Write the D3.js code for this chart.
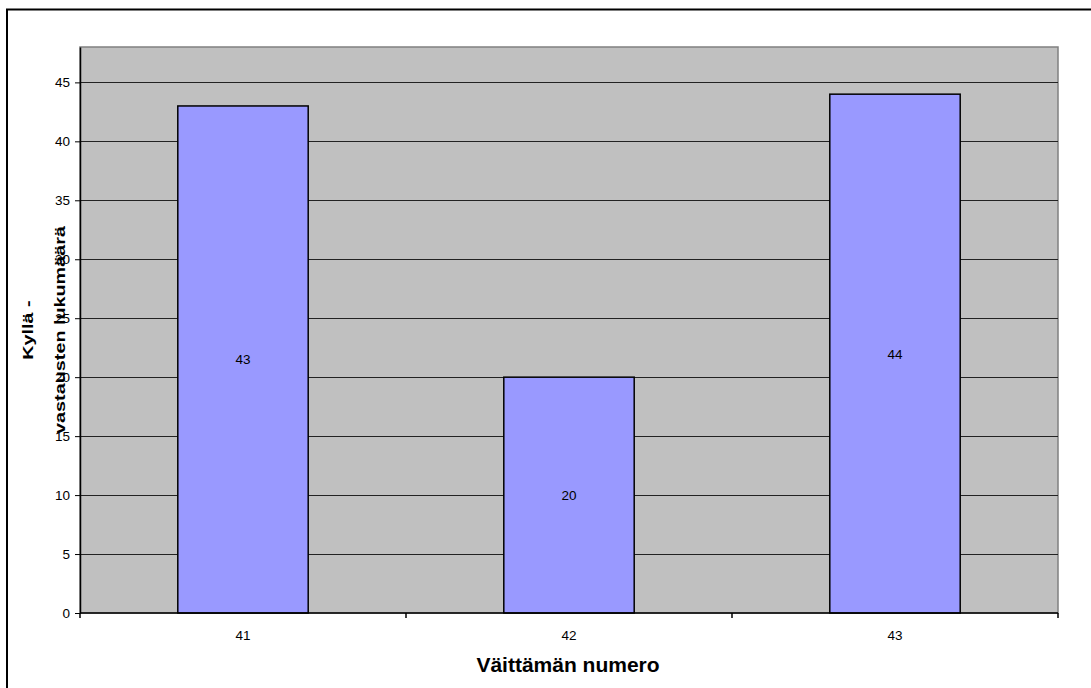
<!DOCTYPE html>
<html>
<head>
<meta charset="utf-8">
<script src="https://cdn.jsdelivr.net/npm/d3@7"></script>
<style>
  html, body { margin: 0; padding: 0; background: #fff; }
  svg { display: block; font-family: Arial, "Liberation Sans", sans-serif; }
</style>
</head>
<body>
<svg id="chart" width="1091" height="688"></svg>
<script>
// Statement numbers and count of "yes" answers
const categories = ["41", "42", "43"];
const yesCounts = [43, 20, 44];
const yTicks = [0, 5, 10, 15, 20, 25, 30, 35, 40, 45];
const yTitleLines = ["Kyllä -", "vastausten lukumäärä"];
const xTitle = "Väittämän numero";

const svg = d3.select("#chart");
const plot = { left: 80, top: 47, right: 1058, bottom: 613 };
const labelFont = 13.5;

// Outer chart frame (runs past the right and bottom edges)
svg.append("rect")
  .attr("x", 7).attr("y", 9.5)
  .attr("width", 1200).attr("height", 800)
  .attr("fill", "none").attr("stroke", "#000").attr("stroke-width", 2);

const x = d3.scaleBand()
  .domain(categories)
  .range([plot.left, plot.right])
  .paddingInner(0.6).paddingOuter(0.3);

const y = d3.scaleLinear().domain([0, 48]).range([plot.bottom, plot.top]);

// Plot background
svg.append("rect")
  .attr("x", plot.left).attr("y", plot.top)
  .attr("width", plot.right - plot.left).attr("height", plot.bottom - plot.top)
  .attr("fill", "#c0c0c0").attr("stroke", "#808080").attr("stroke-width", 1.5);

// Horizontal gridlines
svg.append("g").selectAll("line")
  .data(yTicks.filter(d => d > 0))
  .join("line")
  .attr("x1", plot.left).attr("x2", plot.right)
  .attr("y1", d => Math.round(y(d)) + 0.5).attr("y2", d => Math.round(y(d)) + 0.5)
  .attr("stroke", "#222").attr("stroke-width", 1);

// Bars
svg.append("g").selectAll("rect")
  .data(categories)
  .join("rect")
  .attr("x", d => x(d))
  .attr("y", (d, i) => y(yesCounts[i]))
  .attr("width", x.bandwidth())
  .attr("height", (d, i) => y(0) - y(yesCounts[i]))
  .attr("fill", "#9999ff").attr("stroke", "#000").attr("stroke-width", 1.5);

// Value labels in the middle of each bar
svg.append("g").selectAll("text")
  .data(categories)
  .join("text")
  .attr("x", d => x(d) + x.bandwidth() / 2)
  .attr("y", (d, i) => (y(yesCounts[i]) + y(0)) / 2 + 5)
  .attr("text-anchor", "middle")
  .attr("font-size", labelFont).attr("fill", "#000")
  .text((d, i) => yesCounts[i]);

// Y axis
const yAxis = svg.append("g")
  .attr("transform", `translate(${plot.left},0)`)
  .call(d3.axisLeft(y).tickValues(yTicks).tickSize(5).tickSizeOuter(0).tickPadding(5));
yAxis.select(".domain").attr("stroke", "#000").attr("stroke-width", 1.5);
yAxis.selectAll(".tick line").attr("stroke", "#000");
yAxis.selectAll(".tick text")
  .attr("font-size", labelFont)
  .attr("font-family", "Arial, 'Liberation Sans', sans-serif")
  .attr("fill", "#000");

// X axis: category labels, ticks at the category boundaries
const xAxisY = plot.bottom;
svg.append("line")
  .attr("x1", plot.left).attr("x2", plot.right)
  .attr("y1", xAxisY).attr("y2", xAxisY)
  .attr("stroke", "#000").attr("stroke-width", 1.5);
const step = x.step();
const boundaries = d3.range(categories.length + 1).map(i => plot.left + i * step);
svg.append("g").selectAll("line")
  .data(boundaries)
  .join("line")
  .attr("x1", d => d).attr("x2", d => d)
  .attr("y1", xAxisY).attr("y2", xAxisY + 5)
  .attr("stroke", "#000").attr("stroke-width", 1.5);
svg.append("g").selectAll("text")
  .data(categories)
  .join("text")
  .attr("x", d => x(d) + x.bandwidth() / 2)
  .attr("y", 639.5)
  .attr("text-anchor", "middle")
  .attr("font-size", labelFont).attr("fill", "#000")
  .text(d => d);

// Axis titles
svg.append("text")
  .attr("x", 568)
  .attr("y", 671.5)
  .attr("text-anchor", "middle")
  .attr("font-size", 21).attr("font-weight", "bold")
  .text(xTitle);

// Rotated title, stretched along its reading direction
const yTitle = svg.append("text")
  .attr("transform", "translate(0,330) rotate(-90) scale(1.32,1)")
  .attr("text-anchor", "middle")
  .attr("font-size", 15).attr("font-weight", "bold");
yTitle.selectAll("tspan")
  .data(yTitleLines)
  .join("tspan")
  .attr("x", 0)
  .attr("y", (d, i) => i === 0 ? 33.5 : 65.5)
  .text(d => d);
</script>
</body>
</html>
